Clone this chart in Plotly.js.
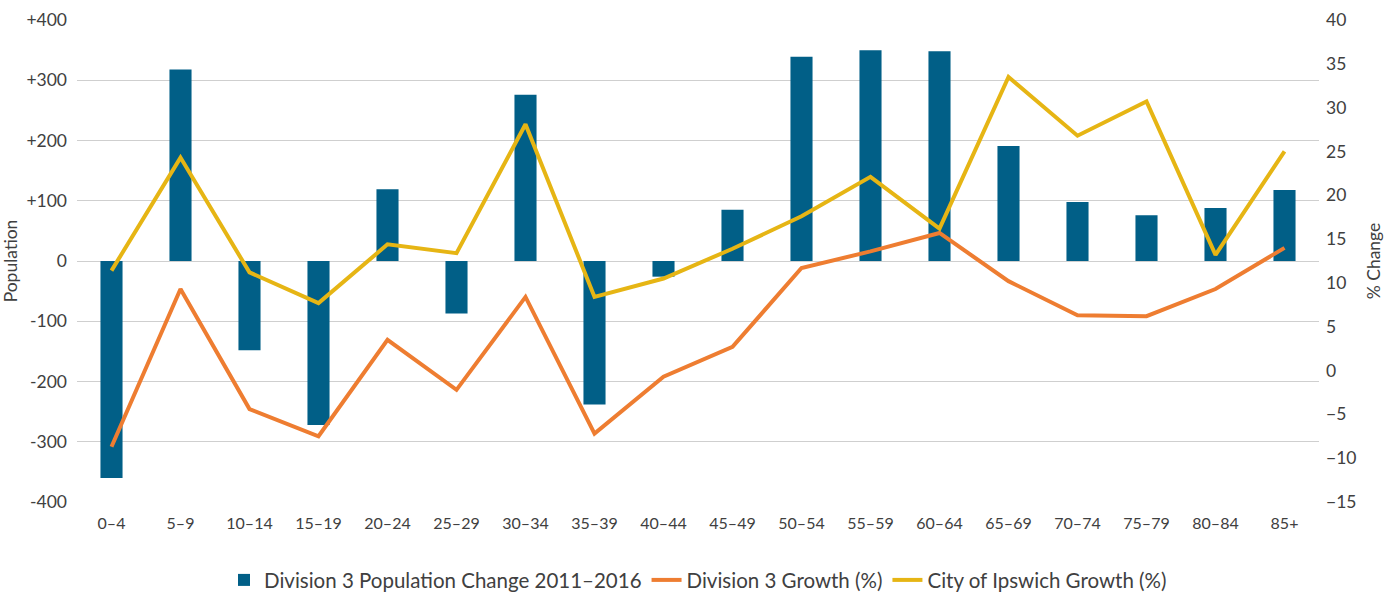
<!DOCTYPE html>
<html>
<head>
<meta charset="utf-8">
<script src="https://cdn.plot.ly/plotly-3.0.1.min.js"></script>
<style>html,body{margin:0;padding:0;background:#fff;}#chart{width:1397px;height:593px;}</style>
</head>
<body>
<div id="chart"></div>
<script>
const categories = ["0–4","5–9","10–14","15–19","20–24","25–29","30–34","35–39","40–44","45–49","50–54","55–59","60–64","65–69","70–74","75–79","80–84","85+"];
const populationChange = [-360, 318, -148, -272, 119, -87, 276, -238, -26, 85, 339, 350, 348, 191, 98, 76, 88, 118];
const division3Growth = [-8.7, 9.3, -4.4, -7.5, 3.5, -2.2, 8.4, -7.2, -0.7, 2.7, 11.7, 13.6, 15.7, 10.2, 6.3, 6.2, 9.3, 14.0];
const ipswichGrowth = [11.4, 24.3, 11.2, 7.7, 14.4, 13.4, 28.1, 8.4, 10.5, 13.9, 17.6, 22.1, 16.2, 33.5, 26.8, 30.7, 13.2, 25.0];
const leftTickVals = [-400, -300, -200, -100, 0, 100, 200, 300, 400];
const leftTickText = ["-400", "-300", "-200", "-100", "0", "+100", "+200", "+300", "+400"];
const seriesNames = ["Division 3 Population Change 2011–2016", "Division 3 Growth (%)", "City of Ipswich Growth (%)"];

const font = "Lato, 'Open Sans', sans-serif";
const txt = "#404040";

const data = [
  {type: "bar", x: categories, y: populationChange, name: seriesNames[0],
   marker: {color: "#015f87"}, yaxis: "y"},
  {type: "scatter", mode: "lines", x: categories, y: division3Growth, name: seriesNames[1],
   line: {color: "#ee7d31", width: 4}, yaxis: "y2"},
  {type: "scatter", mode: "lines", x: categories, y: ipswichGrowth, name: seriesNames[2],
   line: {color: "#e6b514", width: 4}, yaxis: "y2"}
];

const layout = {
  width: 1397, height: 593,
  margin: {l: 77, r: 78, t: 20, b: 91, autoexpand: false},
  paper_bgcolor: "#fff", plot_bgcolor: "#fff",
  font: {family: font, size: 16, color: txt},
  bargap: 0.68,
  showlegend: true,
  legend: {orientation: "h", x: 0.5, xanchor: "center", y: -0.162, yanchor: "middle",
           font: {size: 20.5, color: txt}, itemwidth: 30, traceorder: "normal"},
  xaxis: {type: "category", showgrid: false, showline: false, zeroline: false,
          ticks: "", tickfont: {size: 16, color: txt}, ticklabelstandoff: 10},
  yaxis: {range: [-400, 400], tickvals: leftTickVals, ticktext: leftTickText,
          showgrid: true, gridcolor: "#cfcfcf", gridwidth: 1, zeroline: false, showline: false,
          ticks: "", tickfont: {size: 17.5, color: txt}, ticklabelstandoff: 9,
          title: {text: "Population", font: {size: 17.5, color: txt}, standoff: 10}},
  yaxis2: {range: [-15, 40], dtick: 5, tick0: 0, overlaying: "y", side: "right",
           showgrid: false, zeroline: false, showline: false, ticks: "",
           tickfont: {size: 17.5, color: txt}, ticklabelstandoff: 6,
           title: {text: "% Change", font: {size: 17.5, color: txt}, standoff: 12}}
};

Plotly.newPlot("chart", data, layout, {displayModeBar: false, staticPlot: true});
</script>
</body>
</html>
